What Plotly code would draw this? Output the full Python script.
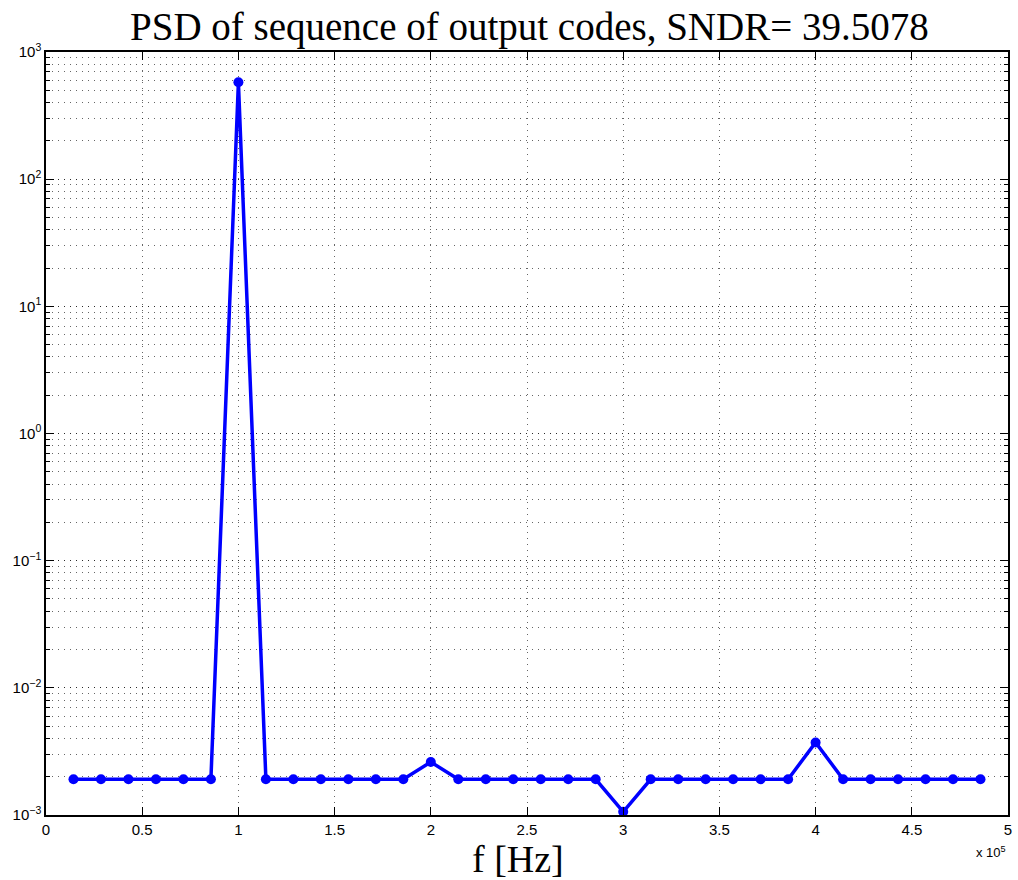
import plotly.graph_objects as go

# frequency bins (Hz) and PSD values
freq = [14286, 28571, 42857, 57143, 71429, 85714, 100000, 114286, 128571, 142857,
        157143, 171429, 185714, 200000, 214286, 228571, 242857, 257143, 271429, 285714,
        300000, 314286, 328571, 342857, 357143, 371429, 385714, 400000, 414286, 428571,
        442857, 457143, 471429, 485714]
psd = [1.91e-3, 1.91e-3, 1.91e-3, 1.91e-3, 1.91e-3, 1.91e-3, 578, 1.91e-3, 1.91e-3, 1.91e-3,
       1.91e-3, 1.91e-3, 1.91e-3, 2.61e-3, 1.91e-3, 1.91e-3, 1.91e-3, 1.91e-3, 1.91e-3, 1.91e-3,
       1.06e-3, 1.91e-3, 1.91e-3, 1.91e-3, 1.91e-3, 1.91e-3, 1.91e-3, 3.72e-3, 1.91e-3, 1.91e-3,
       1.91e-3, 1.91e-3, 1.91e-3, 1.91e-3]

x_tickvals = [0, 50000, 100000, 150000, 200000, 250000, 300000, 350000, 400000, 450000, 500000]
x_ticktext = ["0", "0.5", "1", "1.5", "2", "2.5", "3", "3.5", "4", "4.5", "5"]
y_tickvals = [1e-3, 1e-2, 1e-1, 1, 10, 100, 1000]
y_ticktext = ["10<sup>−3</sup>", "10<sup>−2</sup>", "10<sup>−1</sup>", "10<sup>0</sup>",
              "10<sup>1</sup>", "10<sup>2</sup>", "10<sup>3</sup>"]

fig = go.Figure()
fig.add_trace(go.Scatter(
    x=freq, y=psd, mode="lines+markers",
    line=dict(color="#0000ff", width=3.5),
    marker=dict(color="#0000ff", size=10),
    showlegend=False,
))

gridc = "rgba(0,0,0,0.6)"
gdash = "1px,5px"
fig.update_layout(
    width=1018, height=880,
    paper_bgcolor="white", plot_bgcolor="white",
    margin=dict(l=46, r=6, t=52, b=65),
    title=dict(text="PSD of sequence of output codes, SNDR= 39.5078",
               x=0.52, xanchor="center", y=0.97, yanchor="middle",
               font=dict(family="Liberation Serif", size=39, color="black")),
    font=dict(family="Liberation Sans", size=15, color="black"),
)
fig.update_xaxes(
    range=[0, 500000], tickvals=x_tickvals, ticktext=x_ticktext,
    ticks="inside", ticklen=8, tickcolor="black", tickwidth=1,
    showline=True, linecolor="black", linewidth=1.5, mirror="ticks",
    showgrid=True, gridcolor=gridc, griddash=gdash, gridwidth=1,
    zeroline=False,
    tickfont=dict(size=15),
)
fig.update_yaxes(
    type="log", range=[-3, 3], tickvals=y_tickvals, ticktext=y_ticktext,
    ticks="inside", ticklen=8, tickcolor="black", tickwidth=1,
    showline=True, linecolor="black", linewidth=1.5, mirror="ticks",
    showgrid=True, gridcolor=gridc, griddash=gdash, gridwidth=1,
    zeroline=False,
    minor=dict(dtick="D1", ticks="inside", ticklen=4, tickcolor="black",
               showgrid=True, gridcolor=gridc, griddash=gdash, gridwidth=1),
    tickfont=dict(size=15),
)
fig.add_annotation(text="f [Hz]", xref="paper", yref="paper",
                   x=0.491, y=-0.058, xanchor="center", yanchor="middle",
                   showarrow=False, font=dict(family="Liberation Serif", size=38))
fig.add_annotation(text="x 10<sup>5</sup>", xref="paper", yref="paper",
                   x=1.0, y=-0.035, xanchor="right", yanchor="top",
                   showarrow=False, font=dict(family="Liberation Sans", size=13))

fig.write_html("out.html")
